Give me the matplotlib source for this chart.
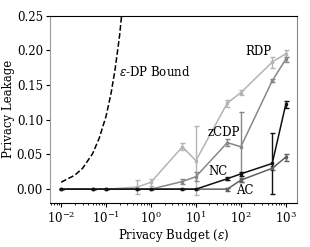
import matplotlib
matplotlib.use("Agg")
import matplotlib.pyplot as plt

plt.rcParams['font.family'] = ['DejaVu Serif']
plt.rcParams['mathtext.fontset'] = 'dejavuserif'
plt.rcParams['font.size'] = 8.5

# privacy budgets
eps = [0.01, 0.05, 0.1, 0.5, 1, 5, 10, 50, 100, 500, 1000]

# leakage (mean, std) per method
rdp = [0, 0, 0, 0.003, 0.010, 0.061, 0.041, 0.124, 0.139, 0.183, 0.195]
rdp_err = [0, 0, 0, 0.010, 0.005, 0.005, 0.050, 0.005, 0.004, 0.008, 0.005]
zcdp = [0, 0, 0, 0, 0, 0.011, 0.018, 0.067, 0.061, 0.156, 0.187]
zcdp_err = [0, 0, 0, 0, 0, 0.003, 0.006, 0.005, 0.050, 0.002, 0.004]
ac = [0, 0, 0, 0, 0, 0, 0, 0, 0.013, 0.030, 0.046]
ac_err = [0, 0, 0, 0, 0, 0, 0, 0.002, 0.003, 0.003, 0.005]
nc = [0, 0, 0, 0, 0, 0, 0, 0.015, 0.022, 0.037, 0.122]
nc_err = [0, 0, 0, 0, 0, 0, 0, 0.002, 0.003, 0.044, 0.005]

# theoretical epsilon-DP bound
bound_eps = [0.01, 0.02, 0.03, 0.05, 0.07, 0.1, 0.13, 0.16, 0.2, 0.25]
bound_vals = [0.010, 0.020, 0.030, 0.051, 0.073, 0.105, 0.139, 0.174, 0.221, 0.284]

fig = plt.figure(figsize=(3.1, 2.47), dpi=100)
ax = fig.add_axes([0.161, 0.178, 0.797, 0.759])

ax.plot(bound_eps, bound_vals, 'k--', lw=1.1)

series = [
    (rdp, rdp_err, '#b4b4b4'),
    (zcdp, zcdp_err, '#878787'),
    (ac, ac_err, '#606060'),
    (nc, nc_err, '#111111'),
]
for vals, err, col in series:
    ax.errorbar(eps, vals, yerr=err, color=col, lw=1.1, marker='s', ms=2,
                capsize=1.8, elinewidth=1.0)

ax.set_xscale('log')
ax.set_ylim(-0.02, 0.25)
ax.set_yticks([0, 0.05, 0.10, 0.15, 0.20, 0.25])
ax.set_xticks([1e-2, 1e-1, 1e0, 1e1, 1e2, 1e3])
ax.tick_params(which='major', length=3, pad=2)
ax.tick_params(which='minor', length=1.5)
ax.spines['left'].set_color('#999999')
ax.spines['right'].set_color('#888888')

ax.text(0.195, 0.169, r'$\epsilon$-DP Bound', va='center', ha='left')
ax.text(240, 0.198, 'RDP', va='center', ha='center')
ax.text(42, 0.081, 'zCDP', va='center', ha='center')
ax.text(31.6, 0.025, 'NC', va='center', ha='center')
ax.text(123, -0.002, 'AC', va='center', ha='center')

ax.set_xlabel(r'Privacy Budget ($\epsilon$)', labelpad=1)
ax.set_ylabel('Privacy Leakage', labelpad=1)

fig.savefig('out.png', dpi=100)
